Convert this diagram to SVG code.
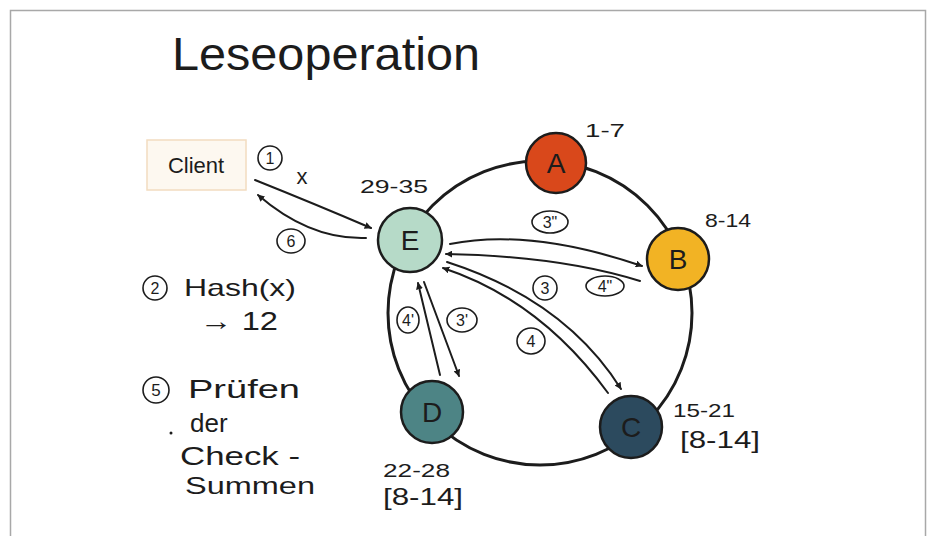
<svg xmlns="http://www.w3.org/2000/svg" width="928" height="536" viewBox="0 0 928 536">
<defs>
<style>
.t{font-family:"Liberation Sans",Arial,sans-serif;fill:#1c1c1c}
.ln{fill:none;stroke:#1c1c1c;stroke-width:2;stroke-linecap:round}
.ring{fill:none;stroke:#1c1c1c;stroke-width:3}
.nd{stroke:#1c1c1c;stroke-width:2.5}
.tag{fill:#fff;stroke:#1c1c1c;stroke-width:1.6}
</style>
<marker id="ah" viewBox="0 0 10 10" refX="9" refY="5" markerWidth="7" markerHeight="7" orient="auto" markerUnits="userSpaceOnUse">
<path d="M0,0 L10,5 L0,10 Z" fill="#1c1c1c"/>
</marker>
</defs>
<rect x="0" y="0" width="928" height="536" fill="#ffffff"/>
<rect x="10.5" y="10.5" width="915" height="540" fill="none" stroke="#a8a8a8" stroke-width="1.5"/>
<text class="t" x="172" y="70" font-size="46" textLength="308" lengthAdjust="spacingAndGlyphs">Leseoperation</text>

<circle class="ring" cx="540" cy="313" r="152"/>

<g id="connectors">
<path class="ln" d="M255,180 Q315,204 371,228" marker-end="url(#ah)"/>
<path class="ln" d="M366,238 Q310,240 258,195" marker-end="url(#ah)"/>
<path class="ln" d="M450,244 Q530,228 642,266" marker-end="url(#ah)"/>
<path class="ln" d="M640,281 Q560,256 446,254" marker-end="url(#ah)"/>
<path class="ln" d="M447,262 Q565,300 621,389" marker-end="url(#ah)"/>
<path class="ln" d="M608,393 Q540,300 443,268" marker-end="url(#ah)"/>
<path class="ln" d="M424,282 L459,376" marker-end="url(#ah)"/>
<path class="ln" d="M440,375 L418,283" marker-end="url(#ah)"/>
</g>

<g id="client">
<rect x="147" y="140" width="99" height="50" fill="#fdf8f0" stroke="#f2dcc0" stroke-width="1.5"/>
<text class="t" x="196" y="173" font-size="22" text-anchor="middle">Client</text>
</g>

<g id="nodeA">
<circle class="nd" cx="556" cy="163" r="30" fill="#d9481b"/>
<text class="t" x="556" y="173" font-size="28" text-anchor="middle">A</text>
</g>
<g id="nodeB">
<circle class="nd" cx="678" cy="259" r="31" fill="#f2b324"/>
<text class="t" x="678" y="269" font-size="28" text-anchor="middle">B</text>
</g>
<g id="nodeC">
<circle class="nd" cx="631" cy="427" r="31" fill="#2c4a5e"/>
<text class="t" x="631" y="437" font-size="28" text-anchor="middle">C</text>
</g>
<g id="nodeD">
<circle class="nd" cx="432" cy="412" r="31" fill="#4d8485"/>
<text class="t" x="432" y="422" font-size="28" text-anchor="middle">D</text>
</g>
<g id="nodeE">
<circle class="nd" cx="410" cy="240" r="32" fill="#b6dac8"/>
<text class="t" x="410" y="250" font-size="28" text-anchor="middle">E</text>
</g>

<g id="ranges">
<text class="t" x="585" y="137" font-size="19" textLength="40" lengthAdjust="spacingAndGlyphs">1-7</text>
<text class="t" x="705" y="227" font-size="19" textLength="46" lengthAdjust="spacingAndGlyphs">8-14</text>
<text class="t" x="360" y="193" font-size="18" textLength="68" lengthAdjust="spacingAndGlyphs">29-35</text>
<text class="t" x="673" y="417" font-size="19" textLength="62" lengthAdjust="spacingAndGlyphs">15-21</text>
<text class="t" x="680" y="448" font-size="24" textLength="80" lengthAdjust="spacingAndGlyphs">[8-14]</text>
<text class="t" x="383" y="477" font-size="19" textLength="67" lengthAdjust="spacingAndGlyphs">22-28</text>
<text class="t" x="383" y="505" font-size="24" textLength="80" lengthAdjust="spacingAndGlyphs">[8-14]</text>
</g>

<g id="labels">
<circle class="tag" cx="270" cy="158" r="12"/>
<text class="t" x="270" y="164" font-size="16" text-anchor="middle">1</text>
<text class="t" x="302" y="184" font-size="22" text-anchor="middle">x</text>
<ellipse class="tag" cx="291" cy="241" rx="14" ry="12"/>
<text class="t" x="291" y="247" font-size="16" text-anchor="middle">6</text>
<ellipse class="tag" cx="550" cy="222" rx="18" ry="11"/>
<text class="t" x="550" y="228" font-size="16" text-anchor="middle">3"</text>
<ellipse class="tag" cx="605" cy="286" rx="19" ry="10"/>
<text class="t" x="605" y="292" font-size="16" text-anchor="middle">4"</text>
<circle class="tag" cx="545" cy="288" r="12"/>
<text class="t" x="545" y="294" font-size="16" text-anchor="middle">3</text>
<ellipse class="tag" cx="531" cy="341" rx="14" ry="13"/>
<text class="t" x="531" y="347" font-size="16" text-anchor="middle">4</text>
<ellipse class="tag" cx="462" cy="320" rx="15" ry="12"/>
<text class="t" x="462" y="326" font-size="16" text-anchor="middle">3'</text>
<ellipse class="tag" cx="408" cy="320" rx="11" ry="13"/>
<text class="t" x="408" y="326" font-size="16" text-anchor="middle">4'</text>
</g>

<g id="notes">
<circle class="tag" cx="155" cy="288" r="12"/>
<text class="t" x="155" y="294" font-size="16" text-anchor="middle">2</text>
<text class="t" x="184" y="296" font-size="24" textLength="112" lengthAdjust="spacingAndGlyphs">Hash(x)</text>
<text class="t" x="200" y="330" font-size="26" textLength="78" lengthAdjust="spacingAndGlyphs">→ 12</text>
<circle class="tag" cx="156" cy="390" r="13"/>
<text class="t" x="156" y="396" font-size="17" text-anchor="middle">5</text>
<text class="t" x="188" y="398" font-size="26" textLength="112" lengthAdjust="spacingAndGlyphs">Prüfen</text>
<text class="t" x="190" y="432" font-size="26">der</text>
<circle cx="171" cy="433" r="1.5" fill="#1c1c1c"/>
<text class="t" x="180" y="465" font-size="26" textLength="120" lengthAdjust="spacingAndGlyphs">Check -</text>
<text class="t" x="185" y="494" font-size="24" textLength="130" lengthAdjust="spacingAndGlyphs">Summen</text>
</g>
</svg>
